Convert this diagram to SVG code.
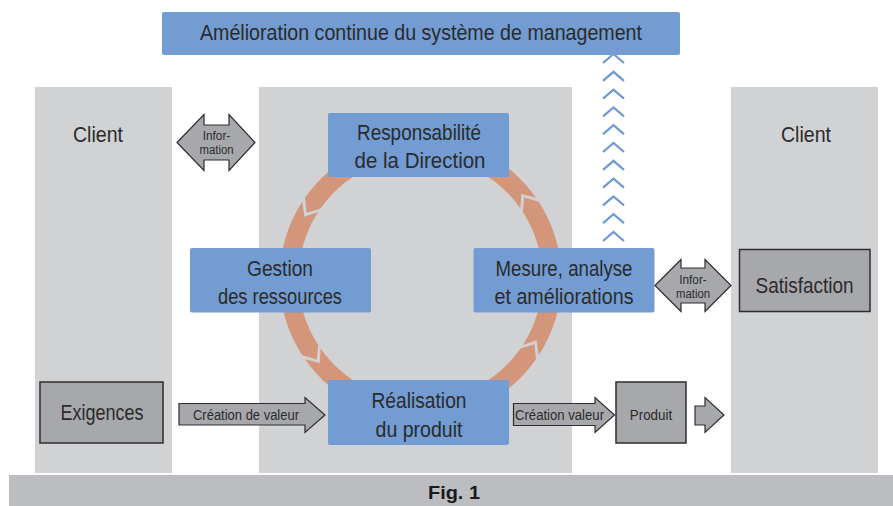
<svg xmlns="http://www.w3.org/2000/svg" xmlns:xlink="http://www.w3.org/1999/xlink" width="893" height="506" viewBox="0 0 893 506">
<style>
.col{fill:#d1d2d4}
.blue{fill:#729cd2}
.gbox{fill:#a7a8ab;stroke:#2e2e2e;stroke-width:1.5}
.arr{fill:#a7a8ab;stroke:#2e2e2e;stroke-width:1.2;stroke-linejoin:miter}
.ring{fill:#d4967a}
.chev{fill:none;stroke:#6f99d2;stroke-width:2.2}
.t{font-family:"Liberation Sans",Arial,sans-serif;fill:#2b2b2b;text-anchor:middle;font-size:22.5px}
.s{font-size:14px}
.p{font-size:15px}
.xs{font-size:12.5px}
.fig{font-family:"Liberation Sans",Arial,sans-serif;font-weight:bold;font-size:19px;fill:#1a1a1a;text-anchor:middle}
</style>
<defs>
<path id="segL" d="M80.87,115.50 A141,141 0 0 0 80.87,-115.50 L65.75,-113.88 L69.98,-99.94 A122,122 0 0 1 69.98,99.94 L84.53,100.73 Z"/>
<path id="segS" d="M118.25,76.79 A141,141 0 0 0 118.25,-76.79 L103.62,-80.96 L102.32,-66.44 A122,122 0 0 1 102.32,66.44 L116.10,61.74 Z"/>
<path id="chv" d="M-10.5,9 L0,0 L10.5,9"/>
</defs>
<rect width="893" height="506" fill="#ffffff"/>
<g id="columns">
<rect class="col" x="35" y="87" width="137" height="386"/>
<rect class="col" x="259" y="87" width="313" height="386"/>
<rect class="col" x="731" y="87" width="147" height="386"/>
</g>
<g id="connectors">
<g id="cycle" class="ring">
<use xlink:href="#segL" transform="translate(420.5,278.5) rotate(270)"/>
<use xlink:href="#segS" transform="translate(420.5,278.5) rotate(180)"/>
<use xlink:href="#segL" transform="translate(420.5,278.5) rotate(90)"/>
<use xlink:href="#segS" transform="translate(420.5,278.5)"/>
</g>
<g id="chevrons" class="chev">
<use xlink:href="#chv" x="613.5" y="54"/>
<use xlink:href="#chv" x="613.5" y="71.8"/>
<use xlink:href="#chv" x="613.5" y="89.6"/>
<use xlink:href="#chv" x="613.5" y="107.4"/>
<use xlink:href="#chv" x="613.5" y="125.2"/>
<use xlink:href="#chv" x="613.5" y="143"/>
<use xlink:href="#chv" x="613.5" y="160.8"/>
<use xlink:href="#chv" x="613.5" y="178.6"/>
<use xlink:href="#chv" x="613.5" y="196.4"/>
<use xlink:href="#chv" x="613.5" y="214.2"/>
<use xlink:href="#chv" x="613.5" y="232"/>
</g>
<g id="info-left">
<polygon class="arr" points="177,142.5 204,114.5 204,125 229,125 229,114.5 255,142.5 229,170.5 229,160 204,160 204,170.5"/>
<text class="t xs" x="216.5" y="139.5" textLength="27.5" lengthAdjust="spacingAndGlyphs">Infor-</text>
<text class="t xs" x="216.5" y="153.5" textLength="34" lengthAdjust="spacingAndGlyphs">mation</text>
</g>
<g id="info-right">
<polygon class="arr" points="655,285.5 681,259.5 681,268 705,268 705,259.5 731,285.5 705,311.5 705,303 681,303 681,311.5"/>
<text class="t xs" x="693" y="283.5" textLength="27.5" lengthAdjust="spacingAndGlyphs">Infor-</text>
<text class="t xs" x="693" y="297.5" textLength="34" lengthAdjust="spacingAndGlyphs">mation</text>
</g>
<g id="value-left">
<polygon class="arr" points="179,403.5 305,403.5 305,397.5 325,415 305,432.5 305,425 179,425"/>
<text class="t s" x="246" y="420" textLength="106" lengthAdjust="spacingAndGlyphs">Création de valeur</text>
</g>
<g id="value-right">
<polygon class="arr" points="513.5,403.5 595,403.5 595,397.5 614.5,415 595,432.5 595,425.5 513.5,425.5"/>
<text class="t s" x="559.5" y="420" textLength="89" lengthAdjust="spacingAndGlyphs">Création valeur</text>
</g>
<g id="out-arrow">
<polygon class="arr" points="695,406 705,406 705,397.5 724,415 705,432.5 705,425 695,425"/>
</g>
</g>
<g id="amelioration">
<rect class="blue" x="162" y="12" width="518" height="43" rx="2"/>
<text class="t" x="421" y="40" textLength="442" lengthAdjust="spacingAndGlyphs">Amélioration continue du système de management</text>
</g>
<g id="client-left"><text class="t" x="98" y="142" textLength="50" lengthAdjust="spacingAndGlyphs">Client</text></g>
<g id="client-right"><text class="t" x="806" y="142" textLength="50" lengthAdjust="spacingAndGlyphs">Client</text></g>
<g id="responsabilite">
<rect class="blue" x="328" y="113" width="181" height="64" rx="2"/>
<text class="t" x="419" y="140" textLength="124" lengthAdjust="spacingAndGlyphs">Responsabilité</text>
<text class="t" x="420" y="168" textLength="131" lengthAdjust="spacingAndGlyphs">de la Direction</text>
</g>
<g id="gestion">
<rect class="blue" x="190" y="248" width="181" height="64.5" rx="2"/>
<text class="t" x="280" y="275.5" textLength="66" lengthAdjust="spacingAndGlyphs">Gestion</text>
<text class="t" x="280" y="303.5" textLength="124" lengthAdjust="spacingAndGlyphs">des ressources</text>
</g>
<g id="mesure">
<rect class="blue" x="473.5" y="248" width="181" height="64.5" rx="2"/>
<text class="t" x="564" y="275.5" textLength="137" lengthAdjust="spacingAndGlyphs">Mesure, analyse</text>
<text class="t" x="564" y="303.5" textLength="139" lengthAdjust="spacingAndGlyphs">et améliorations</text>
</g>
<g id="realisation">
<rect class="blue" x="328" y="380" width="181" height="65" rx="2"/>
<text class="t" x="419" y="408" textLength="95" lengthAdjust="spacingAndGlyphs">Réalisation</text>
<text class="t" x="419" y="437" textLength="87" lengthAdjust="spacingAndGlyphs">du produit</text>
</g>
<g id="exigences">
<rect class="gbox" x="40" y="382" width="123" height="61"/>
<text class="t" x="102" y="420" textLength="83" lengthAdjust="spacingAndGlyphs">Exigences</text>
</g>
<g id="satisfaction">
<rect class="gbox" x="739.5" y="249.5" width="130.5" height="62"/>
<text class="t" x="804.5" y="293" textLength="98" lengthAdjust="spacingAndGlyphs">Satisfaction</text>
</g>
<g id="produit">
<rect class="gbox" x="616" y="382" width="70" height="61"/>
<text class="t p" x="651" y="419.5" textLength="42.5" lengthAdjust="spacingAndGlyphs">Produit</text>
</g>
<g id="caption">
<rect x="9" y="475" width="884" height="31" fill="#bcbdc0"/>
<text class="fig" x="454" y="499" textLength="52" lengthAdjust="spacingAndGlyphs">Fig. 1</text>
</g>
</svg>
